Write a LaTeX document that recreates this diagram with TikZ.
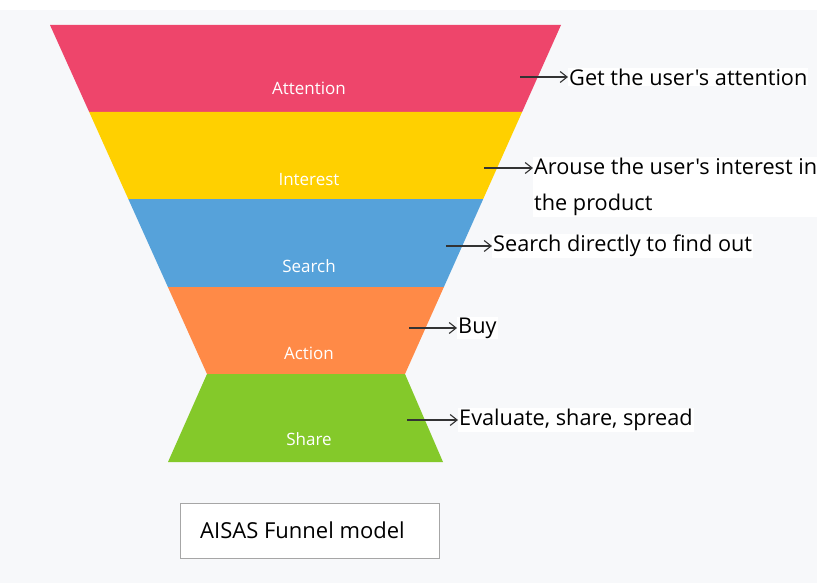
\documentclass[tikz,border=0pt]{standalone}
\usepackage{fontspec}
\setmainfont{Open Sans}[Ligatures=TeXOff]
\usetikzlibrary{arrows.meta}
\definecolor{bgc}{HTML}{F7F8FA}
\definecolor{cAtt}{HTML}{EE456B}
\definecolor{cInt}{HTML}{FFD000}
\definecolor{cSea}{HTML}{56A2DA}
\definecolor{cAct}{HTML}{FF8A47}
\definecolor{cSha}{HTML}{84C92A}
\definecolor{arr}{HTML}{333333}
\tikzset{
  blabel/.style={text=white, font=\fontsize{17}{20}\selectfont, inner sep=0pt},
  desc/.style={anchor=west, fill=white, inner sep=1pt, text=black, font=\fontsize{21.7}{36}\selectfont, align=left},
  pointer/.style={draw=arr, line width=1.1pt, -{Straight Barb[length=7pt,width=11pt]}},
}
\begin{document}
\begin{tikzpicture}[x=1pt,y=-1pt]
\useasboundingbox (0,0) rectangle (817,583);
\fill[bgc] (0,10) rectangle (817,583);
% bands
\fill[cAtt] (50,25) -- (561,25) -- (522.1,112) -- (89.2,112) -- cycle;
\fill[cInt] (89.2,112) -- (522.1,112) -- (483.2,199) -- (128.3,199) -- cycle;
\fill[cSea] (128.3,199) -- (483.2,199) -- (443.9,287) -- (167.9,287) -- cycle;
\fill[cAct] (167.9,287) -- (443.9,287) -- (405,374) -- (207,374) -- cycle;
\fill[cSha] (207,374) -- (405,374) -- (443,462) -- (168,462) -- cycle;
% band labels
\node[blabel] (lAtt) at (309,88) {Attention};
\node[blabel] (lInt) at (309,180) {Interest};
\node[blabel] (lSea) at (309,266) {Search};
\node[blabel] (lAct) at (309,353) {Action};
\node[blabel] (lSha) at (309,439) {Share};
% descriptions
\coordinate (s1) at (520,77);
\coordinate (s2) at (484,168);
\coordinate (s3) at (446,246);
\coordinate (s4) at (409,328);
\coordinate (s5) at (407,420);
\node[desc] (d1) at (568,77) {Get the user's attention};
\node[desc, anchor=north west] (d2) at (533,157) {Arouse the user's interest in\\the product};
\node[desc] (d3) at (492,246) {Search directly to find out};
\node[desc] (d4) at (457,328) {Buy};
\node[desc] (d5) at (458,420) {Evaluate, share, spread};
\draw[pointer] (s1) -- (d1.west);
\draw[pointer] (s2) -- (s2 -| d2.west);
\draw[pointer] (s3) -- (d3.west);
\draw[pointer] (s4) -- (d4.west);
\draw[pointer] (s5) -- (d5.west);
% caption
\node[draw=gray!70, line width=0.9pt, fill=white, minimum width=259pt, minimum height=55pt, inner sep=0pt] (cap) at (309.5,530.5) {};
\node[anchor=west, font=\fontsize{22}{26}\selectfont, inner sep=0pt] (capt) at (200,530) {AISAS Funnel model};
\end{tikzpicture}
\end{document}
